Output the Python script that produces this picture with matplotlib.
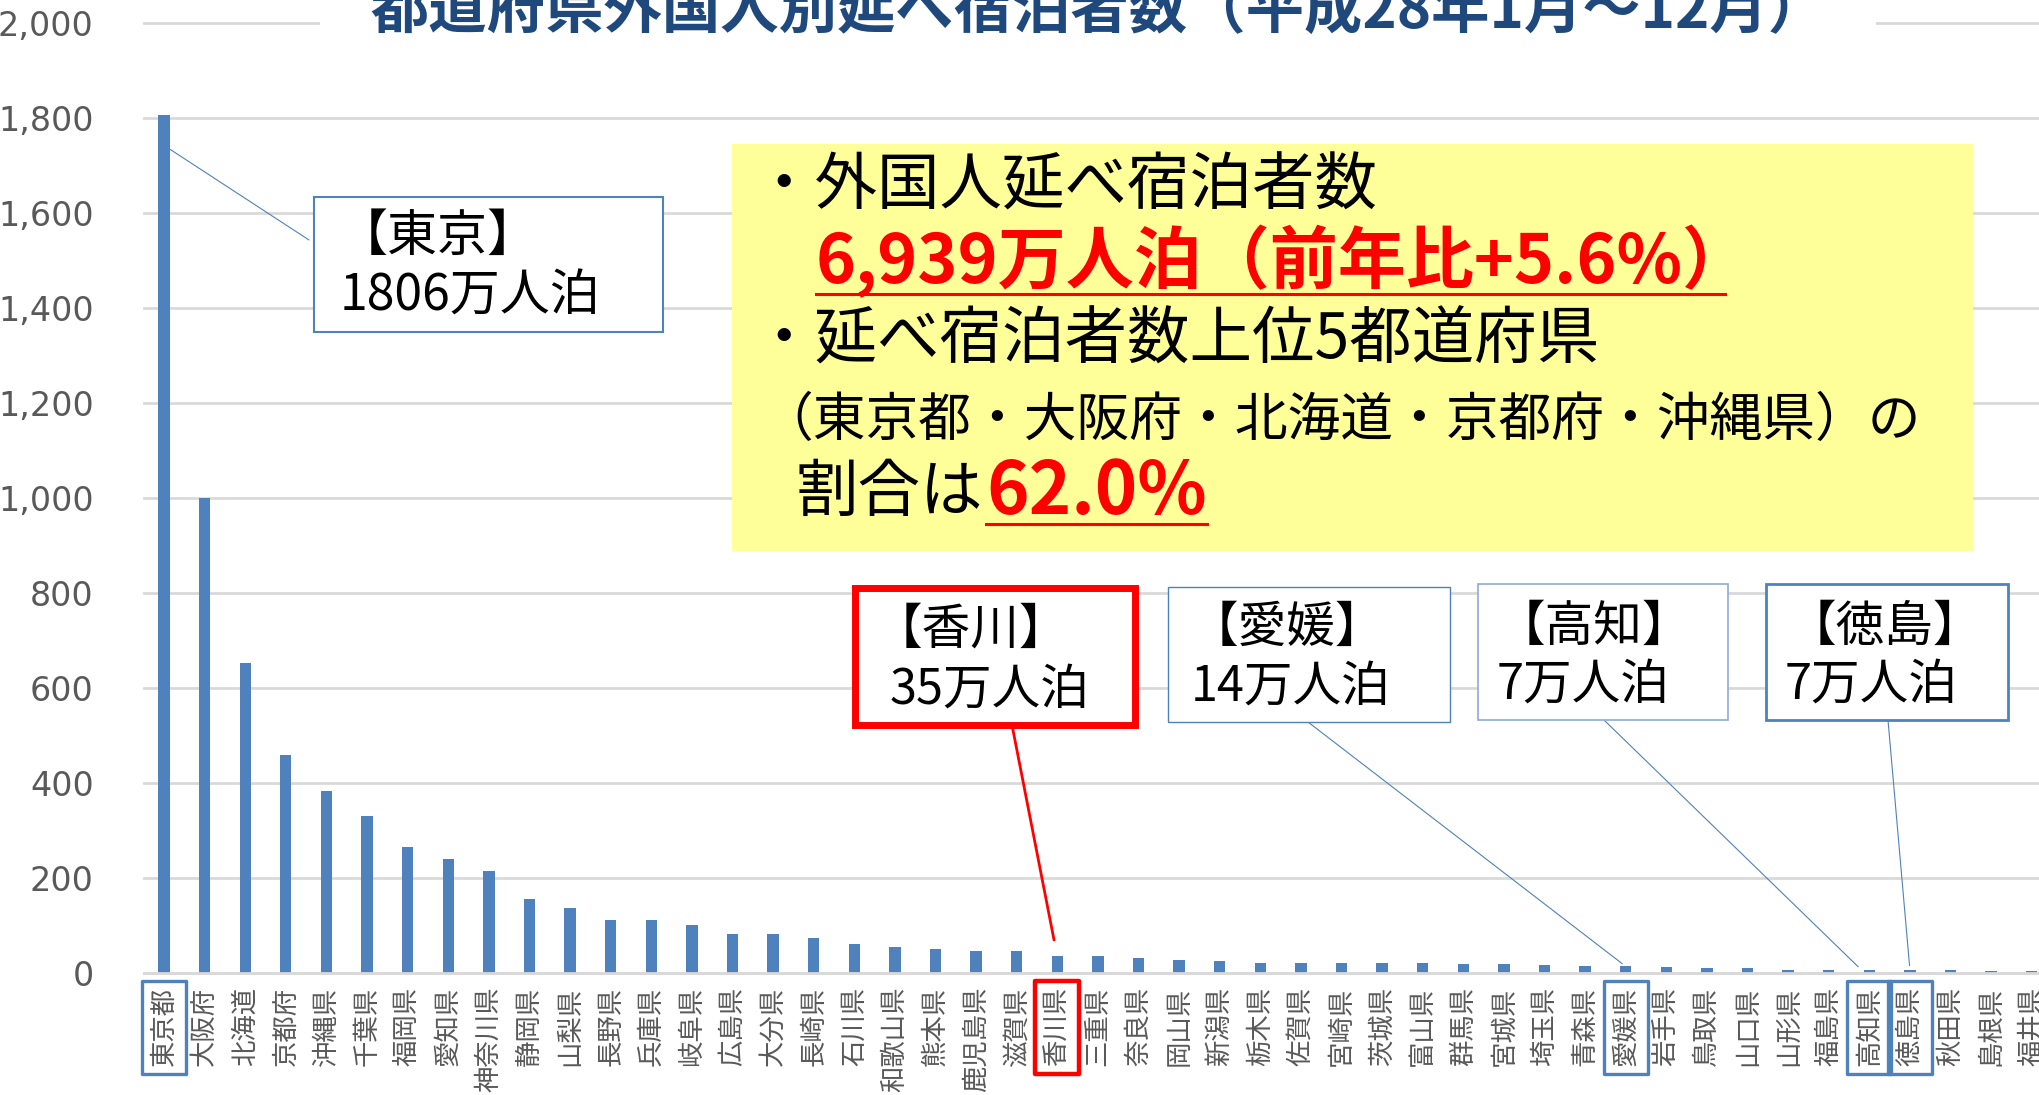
import matplotlib
matplotlib.use('Agg')
import matplotlib.pyplot as plt
from matplotlib.patches import Rectangle
from matplotlib.lines import Line2D
from matplotlib.transforms import blended_transform_factory

plt.rcParams['font.family'] = ['Noto Sans CJK JP', 'DejaVu Sans']

prefs = ['東京都', '大阪府', '北海道', '京都府', '沖縄県', '千葉県', '福岡県', '愛知県',
         '神奈川県', '静岡県', '山梨県', '長野県', '兵庫県', '岐阜県', '広島県', '大分県',
         '長崎県', '石川県', '和歌山県', '熊本県', '鹿児島県', '滋賀県', '香川県', '三重県',
         '奈良県', '岡山県', '新潟県', '栃木県', '佐賀県', '宮崎県', '茨城県', '富山県',
         '群馬県', '宮城県', '埼玉県', '青森県', '愛媛県', '岩手県', '鳥取県', '山口県',
         '山形県', '福島県', '高知県', '徳島県', '秋田県', '島根県', '福井県']
stays = [1806, 1000, 652, 460, 384, 331, 266, 241, 214, 156, 137, 112, 112, 101, 83, 83,
         73, 62, 55, 51, 47, 47, 35, 35, 31, 28, 25, 22, 22, 22, 21, 21,
         20, 20, 16, 15, 14, 12, 10, 10, 7, 7, 7, 7, 6, 4, 4]
yticks = list(range(0, 2001, 200))

title = '都道府県外国人別延べ宿泊者数（平成28年1月～12月）'

# callouts: (pref index, bracket label, value label)
callouts = [(0, '【東京】', '1806万人泊'),
            (22, '【香川】', '35万人泊'),
            (36, '【愛媛】', '14万人泊'),
            (42, '【高知】', '7万人泊'),
            (43, '【徳島】', '7万人泊')]
highlight = {0: '#4F81BD', 22: '#FF0000', 36: '#4F81BD', 42: '#4F81BD', 43: '#4F81BD'}

W, H = 2039, 1095
BLUE = '#4F81BD'
GRID = '#D9D9D9'
GRAY = '#595959'

fig = plt.figure(figsize=(W / 100, H / 100), dpi=100)
ax = fig.add_axes([143.7 / W, (H - 973) / H, 1908.3 / W, 950 / H])

x = list(range(len(prefs)))
ax.bar(x, stays, width=0.28, color=BLUE, zorder=2)
ax.set_xlim(-0.5, len(prefs) - 0.5)
ax.set_ylim(0, 2000)
ax.set_yticks(yticks, [f'{v:,}' for v in yticks], fontsize=24, color=GRAY,
              family='DejaVu Sans')
ax.set_xticks(x, prefs, rotation=90, fontsize=19, color=GRAY)
ax.tick_params(axis='both', length=0)
ax.tick_params(axis='y', pad=36)
ax.tick_params(axis='x', pad=10)
ax.yaxis.grid(True, color=GRID, lw=2, clip_on=False)
ax.set_axisbelow(True)
for s in ['left', 'right', 'top']:
    ax.spines[s].set_visible(False)
ax.spines['bottom'].set_color(GRID)
ax.spines['bottom'].set_linewidth(2)


def fx(px):
    return px / W


def fy(py):
    return 1 - py / H


# title, partly cut off at the top
fig.text(fx(1098), fy(11), title, fontsize=42, fontweight='bold', color='#1F497D',
         ha='center', va='center',
         bbox=dict(facecolor='white', edgecolor='none', pad=36))

# yellow summary box
fig.patches.append(Rectangle((fx(732), fy(551)), fx(1973 - 732), (551 - 144) / H,
                             transform=fig.transFigure, facecolor='#FFFF99',
                             edgecolor='none', zorder=3))
fig.text(fx(752), fy(187), '・外国人延べ宿泊者数', fontsize=45, va='center', zorder=4)
red1 = fig.text(fx(816), fy(262), '6,939万人泊（前年比+5.6%）', fontsize=49,
                fontweight='bold', color='#FF0000', va='center', zorder=4)
fig.text(fx(752), fy(341), '・延べ宿泊者数上位5都道府県', fontsize=45, va='center', zorder=4)
fig.text(fx(760), fy(420), '（東京都・大阪府・北海道・京都府・沖縄県）の', fontsize=38,
         va='center', zorder=4)
fig.text(fx(796), fy(493), '割合は', fontsize=45, va='center', zorder=4)
red2 = fig.text(fx(986), fy(493), '62.0%', fontsize=52, fontweight='bold',
                color='#FF0000', va='center', zorder=4)

# callout boxes: (x0, y0, x1, y1) in pixels from top-left, edge colour, edge width
boxes = [(314, 197, 663, 332, BLUE, 1.5),
         (855, 588, 1135, 725, '#FF0000', 5),
         (1168, 587, 1450, 722, BLUE, 1.0),
         (1478, 584, 1728, 720, '#8EAADB', 1.2),
         (1766, 584, 2008, 720, BLUE, 2.0)]
text_pos = [(338, 237, 340, 297), (874, 630, 890, 690), (1190, 628, 1191, 687),
            (1497, 627, 1497, 685), (1788, 627, 1785, 685)]
leader_from = [(309, 240), (1012, 725), (1308, 722), (1604, 720), (1888, 720)]
leader_dx = [0.15, 0, 0, -0.2, 0]
leader_dy = [-72, 0, 0, 0, 0]
leader_shrink = [0, 12, 3, 3, 3]

for (idx, lab1, lab2), (x0, y0, x1, y1, ec, lw), (tx1, ty1, tx2, ty2), (lx, ly), dx, dy, sh in zip(
        callouts, boxes, text_pos, leader_from, leader_dx, leader_dy, leader_shrink):
    lcol = '#FF0000' if ec == '#FF0000' else BLUE
    llw = 2 if ec == '#FF0000' else 0.8
    ax.annotate('', xy=(idx + dx, stays[idx] + dy), xycoords='data',
                xytext=(lx, H - ly), textcoords='figure pixels',
                arrowprops=dict(arrowstyle='-', color=lcol, lw=llw,
                                shrinkA=0, shrinkB=sh),
                annotation_clip=False, zorder=3)
    fig.patches.append(Rectangle((fx(x0), fy(y1)), fx(x1 - x0), (y1 - y0) / H,
                                 transform=fig.transFigure, facecolor='white',
                                 edgecolor=ec, lw=lw, zorder=3))
    size = 36 if idx == 0 else 35
    fig.text(fx(tx1), fy(ty1), lab1, fontsize=size, va='center', zorder=4)
    fig.text(fx(tx2), fy(ty2), lab2, fontsize=size, va='center', zorder=4)

# boxes around highlighted tick labels
trans = blended_transform_factory(ax.transData, fig.transFigure)
for idx, col in highlight.items():
    ax.add_patch(Rectangle((idx - 0.54, fy(1074)), 1.08, (1074 - 981) / H,
                           transform=trans, facecolor='none', edgecolor=col,
                           lw=3.2 if col == '#FF0000' else 2.4, joinstyle='round',
                           clip_on=False, zorder=5))

# underline the red figures (trim the trailing space of the full-width bracket)
fig.canvas.draw()
r = fig.canvas.get_renderer()
for t, uy, trim in [(red1, 294, 26), (red2, 524, 0)]:
    bb = t.get_window_extent(r)
    fig.lines.append(Line2D([bb.x0 / W, (bb.x1 - trim) / W], [fy(uy), fy(uy)],
                            transform=fig.transFigure, color='#FF0000', lw=2.2,
                            zorder=4))

fig.savefig('out.png', dpi=100)
